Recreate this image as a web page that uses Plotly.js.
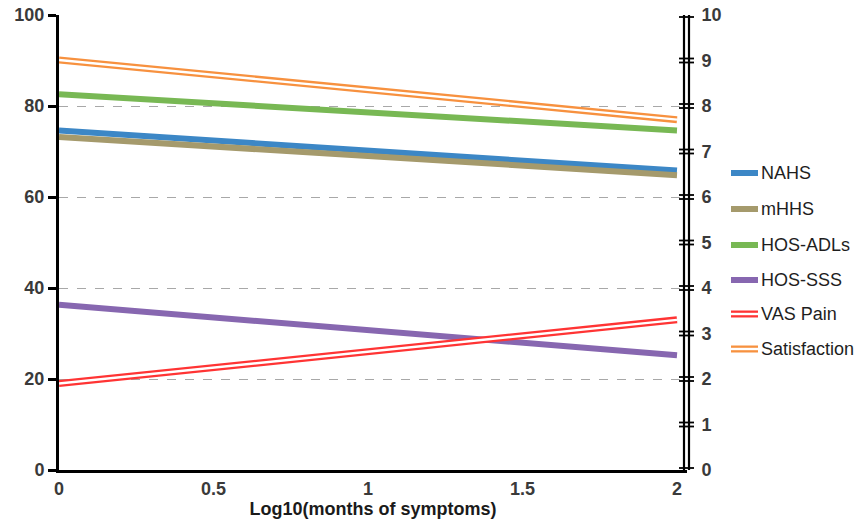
<!DOCTYPE html>
<html>
<head>
<meta charset="utf-8">
<script src="https://cdn.plot.ly/plotly-3.0.1.min.js"></script>
<style>html,body{margin:0;padding:0;background:#fff;}#chart{width:856px;height:522px;}</style>
</head>
<body>
<div id="chart"></div>
<script>
// ---- data ----
const xVals = [0, 2];
const seriesNames = ["NAHS", "mHHS", "HOS-ADLs", "HOS-SSS", "VAS Pain", "Satisfaction"];
const nahs = [74.6, 65.8];
const mhhs = [73.2, 64.8];
const hosAdl = [82.6, 74.6];
const hosSss = [36.3, 25.2];
const vasPain = [1.90, 3.30];        // right axis (0-10)
const satisfaction = [9.01, 7.70];   // right axis (0-10)
const leftTicks = [0, 20, 40, 60, 80, 100];
const rightTicks = [0, 1, 2, 3, 4, 5, 6, 7, 8, 9, 10];
const xTicks = [0, 0.5, 1, 1.5, 2];

// ---- styles ----
const colors = {NAHS:"#3c87c6", mHHS:"#a59a6c", "HOS-ADLs":"#78b854", "HOS-SSS":"#8767b0", "VAS Pain":"#ff3434", "Satisfaction":"#f7913f"};
const solidW = 6, dblW = 7, gapW = 2.4;
const W = 856, H = 522, L = 59, R = 687, T = 15, B = 470;
const FONT = "Liberation Sans, Arial, sans-serif";

const traces = [];
function solid(name, y) {
  traces.push({x:xVals, y:y, type:"scatter", mode:"lines", name:name, showlegend:false,
    line:{color:colors[name], width:solidW}, hoverinfo:"skip"});
}
function dbl(name, y) {
  traces.push({x:xVals, y:y, yaxis:"y2", type:"scatter", mode:"lines", name:name, showlegend:false,
    line:{color:colors[name], width:dblW}, hoverinfo:"skip"});
  traces.push({x:xVals, y:y, yaxis:"y2", type:"scatter", mode:"lines", name:name+" gap", showlegend:false,
    line:{color:"#ffffff", width:gapW}, hoverinfo:"skip"});
}
solid("NAHS", nahs);
solid("mHHS", mhhs);
solid("HOS-ADLs", hosAdl);
solid("HOS-SSS", hosSss);
dbl("VAS Pain", vasPain);
dbl("Satisfaction", satisfaction);

const shapes = [];
const annotations = [];
// right axis: double vertical line
[-3, 2].forEach(off => shapes.push({type:"line", xref:"paper", yref:"paper", xsizemode:"pixel", xanchor:1,
  x0:off, x1:off, y0:0, y1:1, line:{color:"#000", width:2.2}, layer:"above"}));
// right axis double cross ticks
rightTicks.forEach(v => {
  [-2, 2].forEach(off => shapes.push({type:"line", xref:"paper", yref:"y2", xsizemode:"pixel", xanchor:1,
    ysizemode:"pixel", yanchor:v, x0:-8, x1:7, y0:off, y1:off, line:{color:"#000", width:1.8}, layer:"above"}));
});

// legend (manual, to show double lines)
const legY = [173, 209, 245, 280, 314, 349];
const lx0 = 731, lx1 = 758, ltx = 759;
const px2x = p => (p - L) / (R - L);
const px2y = p => (B - p) / (B - T);
seriesNames.forEach((n, i) => {
  const yy = px2y(legY[i]);
  const isDbl = (n === "VAS Pain" || n === "Satisfaction");
  shapes.push({type:"line", xref:"paper", yref:"paper", x0:px2x(lx0), x1:px2x(lx1), y0:yy, y1:yy,
    line:{color:colors[n], width:isDbl ? dblW : solidW}});
  if (isDbl) shapes.push({type:"line", xref:"paper", yref:"paper", x0:px2x(lx0), x1:px2x(lx1), y0:yy, y1:yy,
    line:{color:"#fff", width:gapW}});
  annotations.push({xref:"paper", yref:"paper", x:px2x(ltx), y:yy, xanchor:"left", yanchor:"middle",
    text:n, showarrow:false, font:{family:FONT, size:18, color:"#1e1e1e"}});
});

const layout = {
  width:W, height:H,
  margin:{l:L, r:W-R, t:T, b:H-B, pad:0},
  paper_bgcolor:"#fff", plot_bgcolor:"#fff",
  showlegend:false,
  font:{family:FONT, color:"#333"},
  xaxis:{range:[0, 2*(R-L)/(677-L)], tickvals:xTicks, ticktext:xTicks.map(String), ticks:"", showgrid:false,
    zeroline:false, showline:true, linecolor:"#000", linewidth:3,
    tickfont:{family:FONT, size:18, color:"#3a3a3a", weight:"bold"},
    title:{text:"<b>Log10(months of symptoms)</b>", font:{family:FONT, size:18, color:"#1a1a1a"}, standoff:5}},
  yaxis:{range:[0,100], tickvals:leftTicks, ticks:"outside", ticklen:8, tickwidth:3, tickcolor:"#000",
    showline:true, linecolor:"#000", linewidth:3, zeroline:false,
    showgrid:true, gridcolor:"#a8a8a8", griddash:"dash", gridwidth:1,
    tickfont:{family:FONT, size:18, color:"#3a3a3a", weight:"bold"}},
  yaxis2:{range:[0,10], tickvals:rightTicks, overlaying:"y", side:"right", anchor:"x",
    ticks:"outside", ticklen:10, tickcolor:"rgba(0,0,0,0)", showline:false, showgrid:false, zeroline:false,
    tickfont:{family:FONT, size:18, color:"#3a3a3a", weight:"bold"}},
  shapes:shapes,
  annotations:annotations
};
Plotly.newPlot("chart", traces, layout, {displayModeBar:false, staticPlot:true});
</script>
</body>
</html>
